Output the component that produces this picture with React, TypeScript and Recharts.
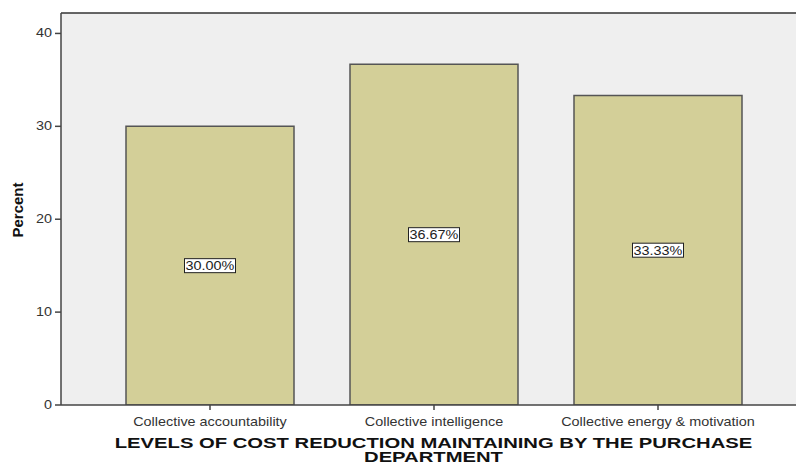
import {
  BarChart,
  Bar,
  XAxis,
  YAxis,
  CartesianGrid,
  ReferenceLine,
  LabelList
} from 'recharts'

const categories = [
  'Collective accountability',
  'Collective intelligence',
  'Collective energy & motivation'
]
const percents = [30.0, 36.67, 33.33]
const yTicks = [0, 10, 20, 30, 40]
const yMax = 42.2
const xTitle = ['LEVELS OF COST REDUCTION MAINTAINING BY THE PURCHASE', 'DEPARTMENT']
const yTitle = 'Percent'

const FONT = '"Liberation Sans", Arial, sans-serif'
// the exported chart is a bit wider than tall, so glyphs are stretched sideways
const SX = 1.2

const chartData = categories.map((name, i) => ({ name, percent: percents[i] }))

// boxed value label placed half way up each bar
const BoxLabel = (props: any) => {
  const { x, y, width, height, value } = props
  const cx = x + width / 2
  const cy = y + height / 2
  const text = `${Number(value).toFixed(2)}%`
  const w = 51
  const h = 14
  return (
    <g>
      <rect x={cx - w / 2} y={cy - h / 2} width={w} height={h} fill="#ffffff" stroke="#222" strokeWidth={1} />
      <text
        transform={`translate(${cx}, ${cy + 4.5}) scale(${SX}, 1)`}
        textAnchor="middle"
        fontSize={12}
        fontFamily={FONT}
        fill="#222"
      >
        {text}
      </text>
    </g>
  )
}

const XTick = (props: any) => {
  const { x, y, payload } = props
  return (
    <text
      transform={`translate(${x}, ${y + 14}) scale(${SX}, 1)`}
      textAnchor="middle"
      fontSize={12}
      fontFamily={FONT}
      fill="#333"
    >
      {payload.value}
    </text>
  )
}

const YTick = (props: any) => {
  const { x, y, payload } = props
  return (
    <text
      transform={`translate(${x - 1}, ${y + 4}) scale(${SX}, 1)`}
      textAnchor="end"
      fontSize={12}
      fontFamily={FONT}
      fill="#333"
    >
      {payload.value}
    </text>
  )
}

const XTitle = (props: any) => {
  const { viewBox } = props
  const cx = viewBox.x + viewBox.width / 2 + 5
  return (
    <g transform={`translate(${cx}, 0) scale(1.35, 1)`}>
      <text textAnchor="middle" fontSize={15} fontWeight="bold" fontFamily={FONT} fill="#111">
        <tspan x={0} y={448}>{xTitle[0]}</tspan>
        <tspan x={0} y={462}>{xTitle[1]}</tspan>
      </text>
    </g>
  )
}

const YTitle = () => (
  <text
    x={23}
    y={210}
    transform="rotate(-90, 23, 210)"
    textAnchor="middle"
    fontSize={15}
    fontWeight="bold"
    fontFamily={FONT}
    fill="#111"
  >
    {yTitle}
  </text>
)

export default function App() {
  return (
    <div style={{ position: 'absolute', left: 0, top: 0, background: '#fff' }}>
      <BarChart
        width={796}
        height={464}
        data={chartData}
        margin={{ top: 13, right: 0, left: 0, bottom: 0 }}
        barSize={168}
      >
        <CartesianGrid fill="#efefef" horizontal={false} vertical={false} />
        <XAxis
          dataKey="name"
          height={59}
          padding={{ left: 37, right: 26 }}
          axisLine={{ stroke: '#444', strokeWidth: 1.5 }}
          tickLine={{ stroke: '#444', strokeWidth: 1.5 }}
          tickSize={5}
          tick={<XTick />}
          interval={0}
          label={<XTitle />}
        />
        <YAxis
          width={61}
          domain={[0, yMax]}
          ticks={yTicks}
          allowDataOverflow
          axisLine={{ stroke: '#444', strokeWidth: 1.5 }}
          tickLine={{ stroke: '#444', strokeWidth: 1.5 }}
          tickSize={6}
          tick={<YTick />}
          label={<YTitle />}
        />
        <ReferenceLine y={yMax} stroke="#333" strokeWidth={1.5} />
        <Bar
          dataKey="percent"
          fill="#d3cf98"
          stroke="#555"
          strokeWidth={1.5}
          isAnimationActive={false}
        >
          <LabelList dataKey="percent" content={<BoxLabel />} />
        </Bar>
      </BarChart>
    </div>
  )
}
